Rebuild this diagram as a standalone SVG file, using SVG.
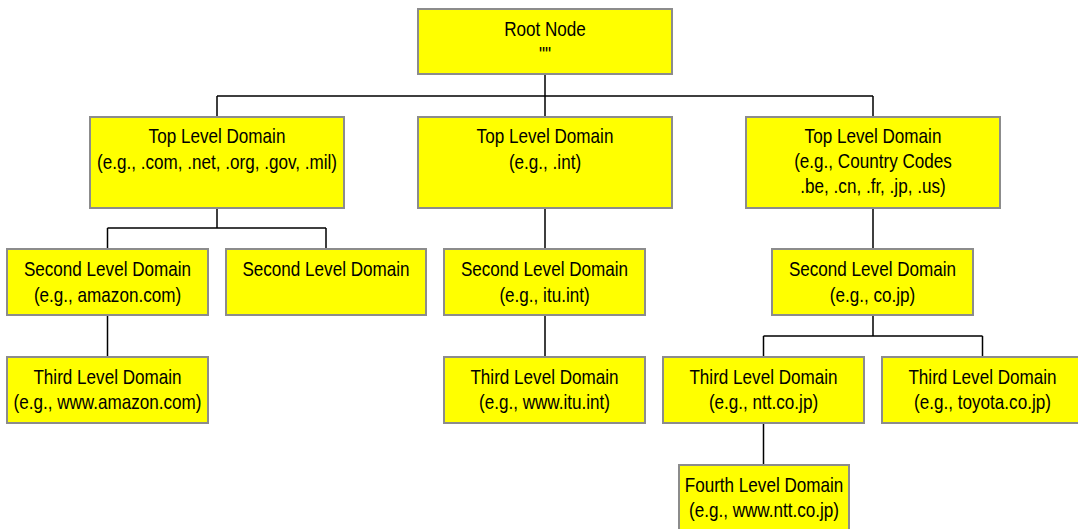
<svg xmlns="http://www.w3.org/2000/svg" width="1078" height="529" viewBox="0 0 1078 529">
<style>
.box{fill:#ffff00;stroke:#8c8c8c;stroke-width:2}
.t{font-family:"Liberation Sans",Arial,sans-serif;font-size:20px;fill:#000;text-anchor:middle}
.c{fill:none;stroke:#000;stroke-width:1.5}
</style>
<rect width="1078" height="529" fill="#fff"/>
<g id="connectors">
<path class="c" d="M545 74V96M217 96H873M217 96V117M545 96V117M873 96V117"/>
<path class="c" d="M217 208V228M107.5 228H326M107.5 228V249M326 228V249"/>
<path class="c" d="M545 208V249M545 315V357"/>
<path class="c" d="M873 208V249M873 315V336M763.5 336H982.5M763.5 336V357M982.5 336V357"/>
<path class="c" d="M107.5 315V357M763.5 423V465"/>
</g>
<g id="root">
<rect class="box" x="418" y="9" width="254" height="65"/>
<text class="t" transform="translate(545 36) scale(0.855 1)">Root Node</text>
<text class="t" transform="translate(545 61) scale(0.855 1)">""</text>
</g>
<g id="tld1">
<rect class="box" x="90" y="117" width="254" height="91"/>
<text class="t" transform="translate(217 143) scale(0.855 1)">Top Level Domain</text>
<text class="t" transform="translate(217 169) scale(0.855 1)">(e.g., .com, .net, .org, .gov, .mil)</text>
</g>
<g id="tld2">
<rect class="box" x="418" y="117" width="254" height="91"/>
<text class="t" transform="translate(545 143) scale(0.855 1)">Top Level Domain</text>
<text class="t" transform="translate(545 169) scale(0.855 1)">(e.g., .int)</text>
</g>
<g id="tld3">
<rect class="box" x="746" y="117" width="254" height="91"/>
<text class="t" transform="translate(873 143) scale(0.855 1)">Top Level Domain</text>
<text class="t" transform="translate(873 168) scale(0.855 1)">(e.g., Country Codes</text>
<text class="t" transform="translate(873 193) scale(0.855 1)">.be, .cn, .fr, .jp, .us)</text>
</g>
<g id="sld1">
<rect class="box" x="7" y="249" width="201" height="66"/>
<text class="t" transform="translate(107.5 276) scale(0.855 1)">Second Level Domain</text>
<text class="t" transform="translate(107.5 302) scale(0.855 1)">(e.g., amazon.com)</text>
</g>
<g id="sld2">
<rect class="box" x="226" y="249" width="200" height="66"/>
<text class="t" transform="translate(326 276) scale(0.855 1)">Second Level Domain</text>
</g>
<g id="sld3">
<rect class="box" x="444" y="249" width="201" height="66"/>
<text class="t" transform="translate(544.5 276) scale(0.855 1)">Second Level Domain</text>
<text class="t" transform="translate(544.5 302) scale(0.855 1)">(e.g., itu.int)</text>
</g>
<g id="sld4">
<rect class="box" x="772" y="249" width="201" height="66"/>
<text class="t" transform="translate(872.5 276) scale(0.855 1)">Second Level Domain</text>
<text class="t" transform="translate(872.5 302) scale(0.855 1)">(e.g., co.jp)</text>
</g>
<g id="third1">
<rect class="box" x="7" y="357" width="201" height="66"/>
<text class="t" transform="translate(107.5 384) scale(0.855 1)">Third Level Domain</text>
<text class="t" transform="translate(107.5 409) scale(0.855 1)">(e.g., www.amazon.com)</text>
</g>
<g id="third2">
<rect class="box" x="444" y="357" width="201" height="66"/>
<text class="t" transform="translate(544.5 384) scale(0.855 1)">Third Level Domain</text>
<text class="t" transform="translate(544.5 409) scale(0.855 1)">(e.g., www.itu.int)</text>
</g>
<g id="third3">
<rect class="box" x="663" y="357" width="201" height="66"/>
<text class="t" transform="translate(763.5 384) scale(0.855 1)">Third Level Domain</text>
<text class="t" transform="translate(763.5 409) scale(0.855 1)">(e.g., ntt.co.jp)</text>
</g>
<g id="third4">
<rect class="box" x="882" y="357" width="201" height="66"/>
<text class="t" transform="translate(982.5 384) scale(0.855 1)">Third Level Domain</text>
<text class="t" transform="translate(982.5 409) scale(0.855 1)">(e.g., toyota.co.jp)</text>
</g>
<g id="fourth">
<rect class="box" x="679" y="465" width="170" height="66"/>
<text class="t" transform="translate(764 492) scale(0.855 1)">Fourth Level Domain</text>
<text class="t" transform="translate(764 517) scale(0.855 1)">(e.g., www.ntt.co.jp)</text>
</g>
</svg>
